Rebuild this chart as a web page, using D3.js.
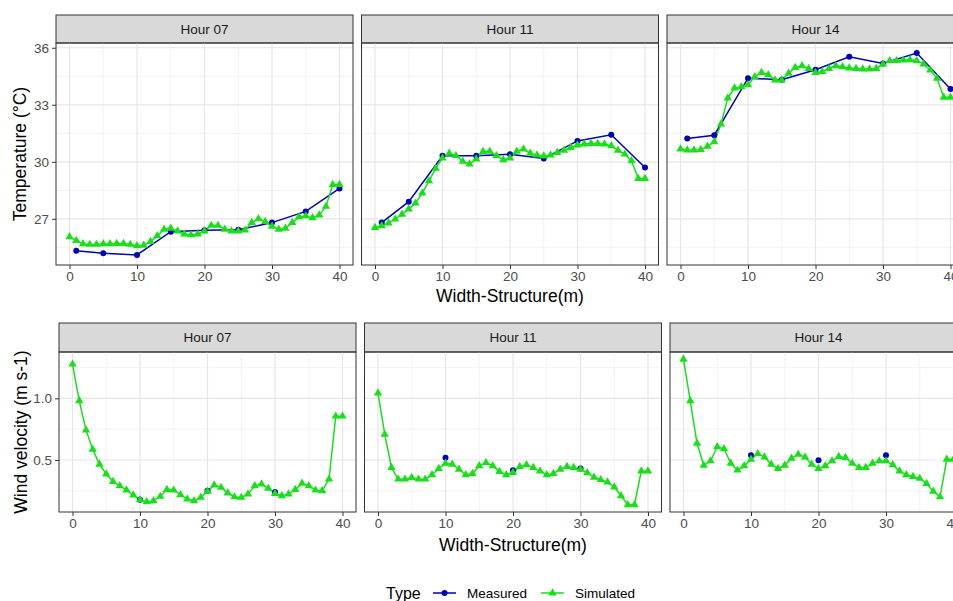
<!DOCTYPE html>
<meta http-equiv="Content-type" content="text/html; charset=UTF-8"/>
<style>
  body { margin: 0; background: #fff; }
  * { font-family: 'Liberation Sans', Arial, sans-serif; }
</style>
<svg width="953" height="601"></svg>
<script src="https://d3js.org/d3.v7.min.js"></script>
<script>
var hours = ["Hour 07", "Hour 11", "Hour 14"];
var xTicks = [0, 10, 20, 30, 40];
var tempTicks = [27, 30, 33, 36];
var windTicks = [0.5, 1.0];

var simX = [0,1,2,3,4,5,6,7,8,9,10,11,12,13,14,15,16,17,18,19,20,
            21,22,23,24,25,26,27,28,29,30,31,32,33,34,35,36,37,38,39,40];
var tempMeasX = [1, 5, 10, 15, 20, 25, 30, 35, 40];
var windMeasX = [10, 20, 30];

// temperature, measured
var tempMeas07 = [25.32, 25.19, 25.10, 26.32, 26.40, 26.42, 26.80, 27.39, 28.60];
var tempMeas11 = [26.80, 27.90, 30.32, 30.32, 30.40, 30.17, 31.10, 31.42, 29.70];
var tempMeas14 = [31.23, 31.40, 34.40, 34.32, 34.84, 35.53, 35.17, 35.72, 33.83];

// temperature, simulated
var tempSim07 = [26.05,25.85,25.68,25.65,25.65,25.68,25.68,25.70,25.70,25.65,25.58,
                 25.60,25.80,26.10,26.45,26.50,26.35,26.20,26.15,26.20,26.35,
                 26.65,26.65,26.45,26.35,26.35,26.40,26.80,27.00,26.85,26.60,
                 26.45,26.50,26.80,27.10,27.15,27.05,27.20,27.65,28.80,28.80];
var tempSim11 = [26.54,26.63,26.77,26.98,27.24,27.51,27.82,28.35,29.00,29.65,30.19,
                 30.44,30.32,30.02,29.88,30.14,30.54,30.55,30.32,30.10,30.20,
                 30.55,30.67,30.45,30.35,30.30,30.35,30.48,30.60,30.75,30.88,
                 30.93,30.96,30.96,30.93,30.84,30.60,30.40,30.05,29.12,29.12];
var tempSim14 = [30.67,30.62,30.62,30.64,30.81,31.05,31.98,33.35,33.88,33.95,34.05,
                 34.47,34.70,34.58,34.30,34.30,34.65,34.96,35.05,34.91,34.70,
                 34.74,34.91,35.05,35.00,34.93,34.91,34.88,34.88,34.91,35.14,
                 35.32,35.32,35.35,35.37,35.32,35.14,34.83,34.39,33.39,33.39];

// wind velocity, measured (points only)
var windMeas07 = [0.177, 0.250, 0.240];
var windMeas11 = [0.519, 0.417, 0.430];
var windMeas14 = [0.538, 0.497, 0.538];

// wind velocity, simulated
var windSim07 = [1.277,0.980,0.742,0.586,0.465,0.385,0.325,0.290,0.256,0.215,0.177,
                 0.160,0.168,0.204,0.260,0.255,0.218,0.183,0.168,0.196,0.245,
                 0.296,0.277,0.231,0.200,0.196,0.223,0.290,0.304,0.270,0.228,
                 0.210,0.223,0.260,0.310,0.290,0.255,0.250,0.344,0.855,0.855];
var windSim11 = [1.043,0.707,0.438,0.344,0.344,0.357,0.344,0.344,0.379,0.430,0.473,
                 0.465,0.425,0.379,0.390,0.452,0.478,0.452,0.406,0.379,0.398,
                 0.447,0.460,0.438,0.410,0.379,0.390,0.425,0.447,0.438,0.425,
                 0.395,0.360,0.340,0.320,0.280,0.210,0.137,0.137,0.410,0.410];
var windSim14 = [1.317,0.980,0.635,0.457,0.492,0.607,0.591,0.473,0.417,0.452,0.505,
                 0.551,0.524,0.465,0.430,0.457,0.513,0.546,0.524,0.465,0.430,
                 0.452,0.492,0.527,0.519,0.473,0.438,0.438,0.473,0.492,0.492,
                 0.460,0.410,0.379,0.366,0.350,0.309,0.245,0.200,0.505,0.505];

var measColor = "#0000b8", simColor = "#18e018";

var svg = d3.select("svg");
var panelW = 297, step = 305.5;

function zip(xs, ys) { return xs.map(function(x, i) { return {x: x, y: ys[i]}; }); }

function expand(vals) {
  var e = d3.extent(vals), pad = (e[1] - e[0]) * 0.05;
  return [e[0] - pad, e[1] + pad];
}

function drawRow(opt) {
  var panelH = opt.bottom - opt.top;
  var x = d3.scaleLinear().domain([-2, 42]).range([0, panelW]);
  var y = d3.scaleLinear().domain(expand(d3.merge(opt.meas.concat(opt.sim)))).range([panelH, 0]);
  var minor = [];
  var yt = opt.ticks, dt = yt[1] - yt[0];
  for (var v = yt[0] - dt / 2; v <= y.domain()[1]; v += dt) if (v >= y.domain()[0]) minor.push(v);

  hours.forEach(function(h, i) {
    var g = svg.append("g").attr("transform", "translate(" + (opt.left + i * step) + "," + opt.top + ")");

    // strip
    g.append("rect").attr("x", 0).attr("y", opt.stripTop - opt.top)
      .attr("width", panelW).attr("height", opt.top - opt.stripTop)
      .attr("fill", "#d9d9d9").attr("stroke", "#333").attr("stroke-width", 1);
    g.append("text").attr("x", panelW / 2).attr("y", (opt.stripTop - opt.top) / 2)
      .attr("dy", "0.35em").attr("text-anchor", "middle")
      .style("font-size", "13.5px").attr("fill", "#1a1a1a").text(h);

    // grid
    g.selectAll(".minx").data([5, 15, 25, 35]).join("line")
      .attr("x1", function(d) { return x(d); }).attr("x2", function(d) { return x(d); })
      .attr("y1", 0).attr("y2", panelH).attr("stroke", "#f0f0f0").attr("stroke-width", 0.8);
    g.selectAll(".miny").data(minor).join("line")
      .attr("y1", function(d) { return y(d); }).attr("y2", function(d) { return y(d); })
      .attr("x1", 0).attr("x2", panelW).attr("stroke", "#f0f0f0").attr("stroke-width", 0.8);
    g.selectAll(".majx").data(xTicks).join("line")
      .attr("x1", function(d) { return x(d); }).attr("x2", function(d) { return x(d); })
      .attr("y1", 0).attr("y2", panelH).attr("stroke", "#e6e6e6").attr("stroke-width", 1.2);
    g.selectAll(".majy").data(yt).join("line")
      .attr("y1", function(d) { return y(d); }).attr("y2", function(d) { return y(d); })
      .attr("x1", 0).attr("x2", panelW).attr("stroke", "#e6e6e6").attr("stroke-width", 1.2);

    var meas = zip(opt.measX, opt.meas[i]);
    var sim = zip(simX, opt.sim[i]);
    var line = d3.line().x(function(d) { return x(d.x); }).y(function(d) { return y(d.y); });

    if (opt.measLine) {
      g.append("path").datum(meas).attr("d", line).attr("fill", "none")
        .attr("stroke", measColor).attr("stroke-width", 1.5);
    }
    g.append("path").datum(sim).attr("d", line).attr("fill", "none")
      .attr("stroke", simColor).attr("stroke-width", 1.5);
    g.selectAll(".mp").data(meas).join("circle")
      .attr("cx", function(d) { return x(d.x); }).attr("cy", function(d) { return y(d.y); })
      .attr("r", 3).attr("fill", measColor);
    g.selectAll(".sp").data(sim).join("path")
      .attr("d", d3.symbol(d3.symbolTriangle, 30))
      .attr("transform", function(d) { return "translate(" + x(d.x) + "," + y(d.y) + ")"; })
      .attr("fill", simColor);

    // border
    g.append("rect").attr("width", panelW).attr("height", panelH)
      .attr("fill", "none").attr("stroke", "#333").attr("stroke-width", 1);

    // x axis
    var xa = g.append("g").attr("transform", "translate(0," + panelH + ")")
      .call(d3.axisBottom(x).tickValues(xTicks).tickSize(4).tickPadding(2));
    xa.select(".domain").remove();
    xa.selectAll("line").attr("stroke", "#333");
    xa.selectAll("text").attr("fill", "#4d4d4d").style("font-size", "13.5px");

    if (i === 0) {
      var ya = g.append("g")
        .call(d3.axisLeft(y).tickValues(yt).tickSize(4).tickPadding(3)
          .tickFormat(opt.fmt));
      ya.select(".domain").remove();
      ya.selectAll("line").attr("stroke", "#333");
      ya.selectAll("text").attr("fill", "#4d4d4d").style("font-size", "13.5px");
    }
  });

  svg.append("text")
    .attr("transform", "translate(" + opt.yTitleX + "," + ((opt.top + opt.bottom) / 2) + ") rotate(-90)")
    .attr("text-anchor", "middle").attr("dy", "0.35em")
    .style("font-size", "17.5px").attr("fill", "#000").text(opt.yTitle);
  svg.append("text").attr("x", opt.left + (2 * step + panelW) / 2).attr("y", opt.xTitleY).attr("dy", "0.35em")
    .attr("text-anchor", "middle").style("font-size", "17.5px").attr("fill", "#000")
    .text("Width-Structure(m)");
}

drawRow({top: 43, bottom: 265, stripTop: 15, left: 56, measLine: true,
  measX: tempMeasX, meas: [tempMeas07, tempMeas11, tempMeas14],
  sim: [tempSim07, tempSim11, tempSim14], ticks: tempTicks,
  fmt: d3.format("d"), yTitle: "Temperature (°C)", yTitleX: 20, xTitleY: 296});

drawRow({top: 352, bottom: 512, stripTop: 323, left: 59, measLine: false,
  measX: windMeasX, meas: [windMeas07, windMeas11, windMeas14],
  sim: [windSim07, windSim11, windSim14], ticks: windTicks,
  fmt: d3.format(".1f"), yTitle: "Wind velocity (m s-1)", yTitleX: 21, xTitleY: 545});

// legend
var leg = svg.append("g").attr("transform", "translate(0,593)");
leg.append("text").attr("x", 386).attr("dy", "0.35em").style("font-size", "16px").text("Type");
var keys = [{label: "Measured", color: measColor, x0: 433, tri: false},
            {label: "Simulated", color: simColor, x0: 541, tri: true}];
keys.forEach(function(k) {
  leg.append("line").attr("x1", k.x0).attr("x2", k.x0 + 23)
    .attr("stroke", k.color).attr("stroke-width", 1.5);
  if (k.tri) {
    leg.append("path").attr("d", d3.symbol(d3.symbolTriangle, 30))
      .attr("transform", "translate(" + (k.x0 + 11.5) + ",0)").attr("fill", k.color);
  } else {
    leg.append("circle").attr("cx", k.x0 + 11.5).attr("r", 3).attr("fill", k.color);
  }
  leg.append("text").attr("x", k.x0 + 34).attr("dy", "0.35em")
    .style("font-size", "13.5px").attr("fill", "#000").text(k.label);
});
</script>
